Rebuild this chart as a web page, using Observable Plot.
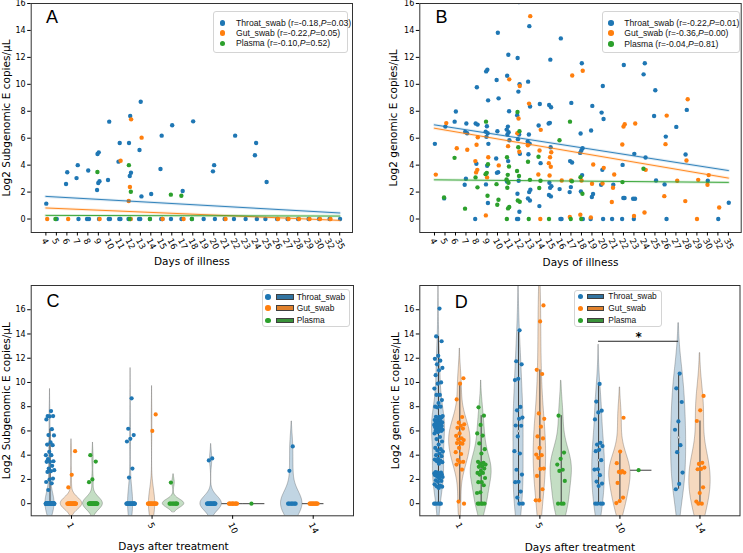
<!DOCTYPE html>
<html>
<head>
<meta charset="utf-8">
<script src="https://cdn.jsdelivr.net/npm/d3@7"></script>
<script src="https://cdn.jsdelivr.net/npm/@observablehq/plot@0.6"></script>
<style>
  body { margin: 0; background: #fff; }
  #wrap { position: relative; width: 743px; height: 553px; overflow: hidden; background: #fff; }
  #wrap > svg { position: absolute; left: 0; top: 0; }
  .leg { position: absolute; box-sizing: border-box; border: 1px solid #d4d4d4; border-radius: 3px;
         background: rgba(255,255,255,0.85); font-family: "Liberation Sans", Arial, sans-serif;
         font-size: 8.2px; color: #111; }
  .leg .dot { position: absolute; border-radius: 50%; }
  .leg .patch { position: absolute; box-sizing: border-box; border: 0.8px solid #3f3f3f; }
  .leg .txt { position: absolute; white-space: nowrap; line-height: 10px; }
</style>
</head>
<body>
<div id="wrap"></div>
<script>
// ---------------- data ----------------
const hues = ["Throat_swab", "Gut_swab", "Plasma"];
const pointColors = ["#1f77b4", "#ff7f0e", "#2ca02c"];
const violinColors = ["#3274a1", "#e1812c", "#3a923a"];
const illnessDays = [4,5,6,7,8,9,10,11,12,13,14,15,16,17,18,19,20,21,22,23,24,25,26,27,28,29,30,32,35];
const treatmentDays = [1, 5, 10, 14];
const yTicks = [0, 2, 4, 6, 8, 10, 12, 14, 16];

// Panel A: subgenomic E, by day of illness: [day, [values]]
const aThroat = [[4,[1.14]],[5,[0]],[6,[3.47,2.6]],[7,[4.0,3.04,0]],[8,[3.6,0,0]],[9,[4.95,4.83,2.8,2.67,2.15,0]],
  [10,[7.23,2.9,0,0]],[11,[5.64,4.26,0,0]],[12,[7.65,5.64,3.44,3.19,0,0]],[13,[8.71,5.12,1.68,0,0]],[14,[1.86,0]],
  [15,[6.19,3.71,0,0]],[16,[6.96,0]],[17,[2.08,0]],[18,[7.25,0]],[19,[0]],[20,[4.0,3.54,0]],[21,[0]],[22,[6.19,0]],
  [23,[0]],[24,[5.64,4.73,0]],[25,[2.75,0]],[26,[0]],[27,[0]],[28,[0]],[29,[0]],[30,[0]],[32,[0]],[35,[0]]];
const aGut = [[4,[0]],[6,[0]],[9,[0]],[11,[4.33]],[12,[7.4,2.38,1.34,0]],[13,[6.04]],[15,[0]],[17,[0]],[21,[0]],
  [26,[0]],[27,[0]],[28,[0]],[29,[0]],[30,[0]],[32,[0]]];
const aPlasma = [[5,[0]],[9,[3.49]],[12,[4.0,2.03,0]],[14,[0]],[16,[1.81]],[17,[1.73]],[18,[0]]];
const aFit = [[1.68, 0.45], [0.82, -0.10], [0.27, 0.22]];   // fitted value at first / last day
const aR = ["-0.18", "-0.22", "-0.10"];
const aP = ["0.03", "0.05", "0.52"];

// Panel B: genomic E, by day of illness
const bThroat = [[4,[5.58]],[5,[6.86,1.53]],[6,[7.98,7.23]],[7,[7.09,6.47,6.37,2.99,2.54]],[8,[9.78,7.09,7.01,4.1,0]],
  [9,[11.09,10.96,8.81,6.89,6.49,6.37,6.1,5.58,3.95,2.57,1.19]],[10,[13.83,10.32,8.96,6.52,4.49,3.48,3.43]],
  [11,[12.2,10.64,8.0,6.86,6.64,6.44,6.27,5.85,4.3,2.79]],[12,[16.1,11.95,10.0,9.46,7.7,6.27,5.93,4.84,2.84,1.88,0.54,0,0]],
  [13,[14.32,10.2,8.35,6.27,5.75,5.6,4.81,2.17,2.0,1.53,1.38]],[14,[8.54,6.94,4.15,0.96]],
  [15,[11.83,8.47,8.3,7.14,7.09,5.33,2.69,2.44,2.32,1.78,1.68]],[16,[13.41,2.22,0,0]],[17,[8.62,4.3,4.2,2.37,2.0]],
  [18,[11.56,6.35,5.26,5.09,4.91,3.26,2.05,0]],[19,[8.4,6.57,1.86,1.63,0]],[20,[9.88,7.9,7.43,3.65,2.54,0]],
  [21,[2.54,0]],[22,[11.43,4.02,1.56,1.56,0]],[23,[4.84,1.51,1.51,0]],[24,[11.56,10.74,4.57]],[25,[9.56,7.65,2.86]],
  [26,[6.12,2.57,0]],[27,[6.84]],[28,[8.1,4.79]],[30,[2.84]],[32,[0]],[35,[1.21]]];
const bGut = [[4,[3.3]],[5,[7.12]],[6,[5.25]],[7,[5.14]],[8,[6.07,5.51,4.3,3.65,3.46]],[9,[4.59,3.09,0.27]],[10,[3.98]],
  [11,[10.37,5.41]],[12,[9.88,7.46,6.37,4.99]],[13,[15.06,8.57,5.48]],[14,[6.62,5.09,3.31,0]],[15,[4.96,4.59,4.15,3.88,3.23]],
  [16,[2.86]],[17,[10.65,2.86,0.15]],[18,[11.01,2.86,0.32]],[19,[4.05,2.62,0.12]],[20,[3.8,2.64]],[21,[3.31,2.32,1.26]],
  [22,[7.04,6.86,5.53]],[23,[7.09,0.22]],[24,[3.65,0.49]],[26,[7.68,5.56,1.7]],[27,[2.84]],[28,[8.89,4.35,1.33]],
  [29,[2.91,0]],[30,[3.26,2.54]],[32,[0.86]]];
const bPlasma = [[5,[1.6]],[6,[4.54]],[7,[0.77]],[8,[3.09,2.35]],[9,[7.23,4.07,3.43,3.33,1.73]],[10,[2.59,1.43,1.06]],
  [11,[4.59,3.9,3.28,2.94,2.69,2.32,0.89,0.79,0]],[12,[7.95,6.52,5.33,3.56,3.19,1.38,1.28]],[13,[4.25,2.91,0]],
  [14,[4.62,2.84,2.3]],[15,[0]],[16,[5.85]],[17,[7.23,2.8,0]],[18,[3.11,1.88,0]],[22,[2.74]],[24,[3.73]]];
const bFit = [[6.99, 3.60], [6.74, 3.04], [2.91, 2.72]];
const bR = ["-0.22", "-0.36", "-0.04"];
const bP = ["0.01", "0.00", "0.81"];

// Panel C: subgenomic E, by days after treatment (1, 5, 10, 14)
const cThroat = [
  [7.64,7.23,7.23,7.2,6.95,6.15,5.66,5.63,5.05,4.88,4.83,4.28,4.0,4.0,3.67,3.5,3.45,3.45,3.12,2.9,2.76,2.68,2.62,2.07,1.99,1.79,1.68,1.13,
   0,0,0,0,0,0,0,0,0,0,0,0,0,0,0,0,0,0,0,0,0,0,0,0,0,0,0,0,0,0,0,0,0,0,0,0,0,0,0,0,0,0,0,0,0,0,0,0,0,0,0,0,0,0,0,0,0,0,0,0],
  [8.69,6.18,5.66,5.35,5.13,2.9,2.15,0,0,0,0,0,0,0,0,0,0,0,0,0,0,0,0,0,0,0,0,0,0],
  [3.73,3.57,0,0,0,0,0,0,0,0,0,0,0,0,0,0,0,0,0,0,0],
  [4.72,2.71,0,0,0,0,0,0,0,0]
];
const cGut = [
  [4.33,2.38,1.34,0,0,0,0,0,0,0,0,0,0,0,0,0,0,0,0,0,0,0,0,0,0,0,0],
  [7.36,6.0,0,0,0,0,0,0,0,0,0,0,0,0,0,0,0,0,0],
  [0,0,0,0,0,0,0,0,0,0,0],
  [0,0,0,0,0,0,0,0,0,0,0,0,0]
];
const cPlasma = [
  [4.0,3.47,2.0,1.77,0,0,0,0,0,0,0,0,0,0,0,0,0,0,0,0,0,0,0,0,0,0,0,0,0,0],
  [1.74,0,0,0,0,0,0,0,0,0],
  [0],
  []
];

// Panel D: genomic E, by days after treatment
const dThroat = [
  [16.1,13.8,13.4,12.2,11.95,11.8,11.5,11.2,11.0,10.6,10.0,9.9,9.5,8.97,8.97,8.55,8.3,8.0,8.0,7.95,
   7.23,7.17,7.17,7.1,6.95,6.9,6.87,6.8,6.7,6.6,6.6,6.57,6.54,6.5,6.46,6.45,6.4,6.35,6.32,6.3,
   6.2,6.1,6.04,6.04,6.0,5.9,5.8,5.5,5.33,5.13,4.88,4.6,4.5,4.39,4.3,4.14,4.0,3.92,3.7,3.64,
   3.56,3.5,3.42,3.3,2.6,2.57,2.57,2.5,2.48,2.45,2.4,2.4,2.35,2.3,2.24,2.2,2.1,1.93,1.88,1.8,
   1.6,1.5,1.43,1.4,1.3,0,0,0,0,0],
  [14.3,11.75,11.5,10.3,10.2,7.98,7.7,7.1,7.0,6.45,6.43,5.55,4.33,4.14,2.8,2.4,1.8,1.77,1.0,0.5,0,0],
  [9.88,8.42,7.67,7.53,6.95,5.02,4.88,4.75,4.44,4.33,3.59,2.84,2.81,2.35,1.82,1.66,1.46,0,0,0,0],
  [10.73,9.52,8.39,6.79,6.1,4.83,4.25,2.57,1.63,1.19]
];
const dGut = [
  [10.35,9.9,8.6,7.15,6.68,6.55,6.43,6.26,6.2,5.8,5.6,5.4,5.3,5.25,5.0,5.0,4.95,4.6,4.25,4.1,3.6,3.45,3.42,3.23,2.81,0.17,0],
  [16.36,15.04,11.04,10.7,7.45,7.0,6.35,5.55,5.38,4.6,4.05,4.0,3.78,2.9,2.87,2.29,1.19,0.28,0.28],
  [7.09,4.3,3.34,2.68,2.62,2.57,2.57,1.71,0.5,0.22,0.05],
  [8.89,7.7,6.82,3.37,3.28,2.98,2.87,2.84,1.35,0.88,0.17,0,0]
];
const dPlasma = [
  [7.95,7.26,6.5,5.8,5.62,4.97,4.5,4.14,3.45,3.37,3.3,3.23,3.1,3.04,2.9,2.7,2.54,2.54,2.4,2.12,1.77,1.77,1.52,0.94,0.88,0,0,0,0,0],
  [7.26,4.22,3.7,3.23,2.8,2.7,1.88,0,0,0],
  [2.76],
  []
];
// significance bracket in D (Throat_swab day 10 vs day 14)
const dSignif = [{from: 10, to: 14, hue: "Throat_swab", height: 13.4, label: "*"}];

// ---------------- helpers ----------------
const W = 743, H = 553;
const wrap = document.getElementById("wrap");
const dayIndex = new Map(illnessDays.map((d, i) => [d, i]));
const jit = (k, h, J) => ((((k + 1) * 0.6180339887 + h * 0.29) % 1) - 0.5) * 2 * J;
const baseStyle = {background: "none", fontFamily: "DejaVu Sans, sans-serif", fontSize: "8px", overflow: "visible", color: "#000"};

function kde(values) {
  const n = values.length;
  if (n < 2 || new Set(values).size === 1) return null;
  const sd = d3.deviation(values);
  const bw = Math.pow(n, -0.2) * sd;
  const lo = d3.min(values) - 2 * bw, hi = d3.max(values) + 2 * bw;
  const grid = d3.range(100).map(i => lo + (hi - lo) * i / 99);
  const dens = grid.map(y => d3.sum(values, v => Math.exp(-0.5 * ((y - v) / bw) ** 2)) / (n * bw * Math.sqrt(2 * Math.PI)));
  return {grid, dens};
}

function frameMarks() {
  return [Plot.frame({stroke: "#333", strokeWidth: 1})];
}

function scatterPanel({left, right, top, bottom, groups, fits, letter, letterDx, ylabel, ylabelDx, xlabelDy}) {
  const last = illnessDays.length - 1;
  const marks = [];
  groups.forEach((g, h) => {
    const rows = [];
    g.forEach(([day, vals]) => vals.forEach((v, k) => rows.push({x: dayIndex.get(day) + jit(k, h, 0.15), y: v})));
    marks.push(Plot.dot(rows, {x: "x", y: "y", r: 2.2, fill: pointColors[h], stroke: "none", clip: true}));
  });
  fits.forEach((f, h) => {
    const rows = [{x: 0, y: f[0]}, {x: last, y: f[1]}];
    marks.push(Plot.line(rows, {x: "x", y: "y", stroke: pointColors[h], strokeWidth: 3, strokeOpacity: 0.15, clip: true}));
    marks.push(Plot.line(rows, {x: "x", y: "y", stroke: pointColors[h], strokeWidth: 0.9, clip: true}));
  });
  marks.push(
    ...frameMarks(),
    Plot.axisY({ticks: yTicks, tickSize: 3.5, tickPadding: 2, fontSize: 8, label: null}),
    Plot.axisX({ticks: d3.range(illnessDays.length), tickSize: 3.5, tickFormat: () => "", label: null}),
    Plot.text(illnessDays, {x: (d, i) => i, text: d => String(d), frameAnchor: "bottom", rotate: 62,
      textAnchor: "start", lineAnchor: "middle", dx: -2.2, dy: 6.5, fontSize: 8.6}),
    Plot.text(["Days of illness"], {text: d => d, frameAnchor: "bottom", dy: xlabelDy, textAnchor: "middle", lineAnchor: "top", fontSize: 10.5}),
    Plot.text([ylabel], {text: d => d, frameAnchor: "left", dx: ylabelDx, rotate: -90, textAnchor: "middle", lineAnchor: "middle", fontSize: 10.5}),
    Plot.text([letter], {text: d => d, frameAnchor: "top-left", dx: letterDx, dy: 7, textAnchor: "start", lineAnchor: "top",
      fontSize: 18, fontFamily: "Liberation Sans, Arial, sans-serif"})
  );
  return Plot.plot({
    width: W, height: H, marginLeft: left, marginRight: W - right, marginTop: top, marginBottom: H - bottom,
    x: {domain: [-1.4, 29.22]}, y: {domain: [-1, 16]},
    style: baseStyle, marks
  });
}

function violinPanel({left, right, top, bottom, data, letter, letterDx, letterDy, ylabel, ylabelDx, xlabelDx, xlabelDy, signif}) {
  const half = 0.8 / 3 / 2, off = 0.8 / 3;
  const center = (i, h) => i + (h - 1) * off;
  const shapes = [], singles = [], stats = [], points = [[], [], []];
  treatmentDays.forEach((day, i) => {
    const ks = data.map(hueData => hueData[i] && hueData[i].length ? kde(hueData[i]) : null);
    const gmax = d3.max(ks, k => k ? d3.max(k.dens) : 0) || 1;
    data.forEach((hueData, h) => {
      const vals = hueData[i];
      if (!vals || !vals.length) return;
      const c = center(i, h);
      const k = ks[h];
      if (k) {
        shapes.push(k.grid.map((y, j) => ({key: `${day}-${h}`, h, y, x1: c - k.dens[j] / gmax * half, x2: c + k.dens[j] / gmax * half})));
        const s = vals.slice().sort(d3.ascending);
        const q1 = d3.quantileSorted(s, 0.25), q2 = d3.quantileSorted(s, 0.5), q3 = d3.quantileSorted(s, 0.75);
        const lim = 1.5 * (q3 - q1);
        stats.push({x: c, q1, q2, q3, lo: d3.min(s.filter(v => v >= q1 - lim)), hi: d3.max(s.filter(v => v <= q3 + lim))});
      } else {
        singles.push({y: vals[0], x1: c - half, x2: c + half});
      }
      vals.forEach((v, kk) => points[h].push({x: c + jit(kk, h, 0.055), y: v}));
    });
  });
  const marks = [];
  [0, 1, 2].forEach(h => {
    const rows = shapes.filter(s => s[0].h === h).flat();
    marks.push(Plot.areaX(rows, {y: "y", x1: "x1", x2: "x2", z: "key", fill: violinColors[h], fillOpacity: 0.3,
      stroke: "#3f3f3f", strokeOpacity: 0.3, strokeWidth: 1, clip: true}));
  });
  marks.push(
    Plot.ruleY(singles, {y: "y", x1: "x1", x2: "x2", stroke: "#3f3f3f", strokeWidth: 1}),
    Plot.ruleX(stats, {x: "x", y1: "lo", y2: "hi", stroke: "#3f3f3f", strokeWidth: 1}),
    Plot.dot(stats, {x: "x", y: "q2", r: 1.1, fill: "#ddd", stroke: "#777", strokeWidth: 0.4})
  );
  [0, 1, 2].forEach(h => marks.push(Plot.dot(points[h], {x: "x", y: "y", r: 2.1, fill: pointColors[h], stroke: "none", clip: true})));
  if (signif) {
    const rows = signif.map(s => {
      const h = hues.indexOf(s.hue);
      return {x1: center(treatmentDays.indexOf(s.from), h), x2: center(treatmentDays.indexOf(s.to), h), y: s.height, label: s.label};
    });
    marks.push(
      Plot.ruleY(rows, {y: "y", x1: "x1", x2: "x2", stroke: "#222", strokeWidth: 1}),
      Plot.text(rows, {x: d => (d.x1 + d.x2) / 2, y: "y", text: "label", dy: -4, fontSize: 12, lineAnchor: "middle", fontWeight: "bold"})
    );
  }
  marks.push(
    ...frameMarks(),
    Plot.axisY({ticks: yTicks, tickSize: 3.5, tickPadding: 2, fontSize: 8, label: null}),
    Plot.axisX({ticks: [0, 1, 2, 3], tickSize: 3.5, tickFormat: () => "", label: null}),
    Plot.text(treatmentDays, {x: (d, i) => i, text: d => String(d), frameAnchor: "bottom", rotate: 62,
      textAnchor: "start", lineAnchor: "middle", dx: -2.2, dy: 7.5, fontSize: 8.6}),
    Plot.text(["Days after treatment"], {text: d => d, frameAnchor: "bottom-left", dx: xlabelDx, dy: xlabelDy,
      textAnchor: "middle", lineAnchor: "top", fontSize: 10.5}),
    Plot.text([ylabel], {text: d => d, frameAnchor: "left", dx: ylabelDx, rotate: -90, textAnchor: "middle", lineAnchor: "middle", fontSize: 10.5}),
    Plot.text([letter], {text: d => d, frameAnchor: "top-left", dx: letterDx, dy: letterDy, textAnchor: "start", lineAnchor: "top",
      fontSize: 18, fontFamily: "Liberation Sans, Arial, sans-serif"})
  );
  return Plot.plot({
    width: W, height: H, marginLeft: left, marginRight: W - right, marginTop: top, marginBottom: H - bottom,
    x: {domain: [-0.5, 3.5]}, y: {domain: [-1, 18]},
    style: baseStyle, marks
  });
}

function legend({left, top, width, height, rowsY, dotX, textX, labels, patch, fontSize}) {
  const box = document.createElement("div");
  box.className = "leg";
  Object.assign(box.style, {left: left + "px", top: top + "px", width: width + "px", height: height + "px", fontSize: fontSize + "px"});
  labels.forEach((lab, i) => {
    const cy = rowsY[i] - top - 1;
    const d = document.createElement("div");
    d.className = "dot";
    Object.assign(d.style, {left: (dotX - left - 1 - 2.8) + "px", top: (cy - 2.8) + "px", width: "5.6px", height: "5.6px", background: pointColors[i]});
    box.appendChild(d);
    if (patch) {
      const p = document.createElement("div");
      p.className = "patch";
      Object.assign(p.style, {left: (patch.x - left - 1) + "px", top: (cy - 2.8) + "px", width: patch.w + "px", height: "5.6px", background: violinColors[i]});
      box.appendChild(p);
    }
    const t = document.createElement("div");
    t.className = "txt";
    Object.assign(t.style, {left: (textX - left - 1) + "px", top: (cy - 5.3) + "px"});
    t.innerHTML = lab;
    box.appendChild(t);
  });
  wrap.appendChild(box);
}

// ---------------- draw ----------------
wrap.appendChild(scatterPanel({left: 30.7, right: 352, top: 3, bottom: 232, groups: [aThroat, aGut, aPlasma], fits: aFit,
  letter: "A", letterDx: 14.8, ylabel: "Log2 Subgenomic E copies/µL", ylabelDx: -24.5, xlabelDy: 25.3}));
wrap.appendChild(scatterPanel({left: 419.3, right: 740.7, top: 3, bottom: 232, groups: [bThroat, bGut, bPlasma], fits: bFit,
  letter: "B", letterDx: 15.7, ylabel: "Log2 genomic E copies/µL", ylabelDx: -26, xlabelDy: 26.5}));
wrap.appendChild(violinPanel({left: 30.7, right: 353, top: 285, bottom: 515.3, data: [cThroat, cGut, cPlasma],
  letter: "C", letterDx: 15.3, letterDy: 8.3, ylabel: "Log2 Subgenomic E copies/µL", ylabelDx: -24.5, xlabelDx: 142.3, xlabelDy: 26.4}));
wrap.appendChild(violinPanel({left: 419.3, right: 739.5, top: 285, bottom: 515.3, data: [dThroat, dGut, dPlasma],
  letter: "D", letterDx: 35, letterDy: 10, ylabel: "Log2 genomic E copies/µL", ylabelDx: -24, xlabelDx: 160.1, xlabelDy: 27.4,
  signif: dSignif}));

legend({left: 212.7, top: 10.7, width: 135, height: 42.5, rowsY: [23, 33.3, 43.7], dotX: 222.7, textX: 236, fontSize: 8.6,
  labels: hues.map((h, i) => `${h} (r=${aR[i]},<i>P</i>=${aP[i]})`)});
legend({left: 601.7, top: 10.7, width: 138.3, height: 42.6, rowsY: [23.3, 33.3, 44], dotX: 611, textX: 624.3, fontSize: 8.6,
  labels: hues.map((h, i) => `${h} (r=${bR[i]},<i>P</i>=${bP[i]})`)});
legend({left: 262.3, top: 289.3, width: 88, height: 37.7, rowsY: [297, 308.3, 320.5], dotX: 268.3, textX: 296.7, fontSize: 8.4,
  labels: hues, patch: {x: 275.7, w: 18.6}});
legend({left: 574, top: 290, width: 87.7, height: 36.7, rowsY: [296.7, 308.3, 320.3], dotX: 580.7, textX: 608.3, fontSize: 8.4,
  labels: hues, patch: {x: 586.7, w: 17.3}});
</script>
</body>
</html>
